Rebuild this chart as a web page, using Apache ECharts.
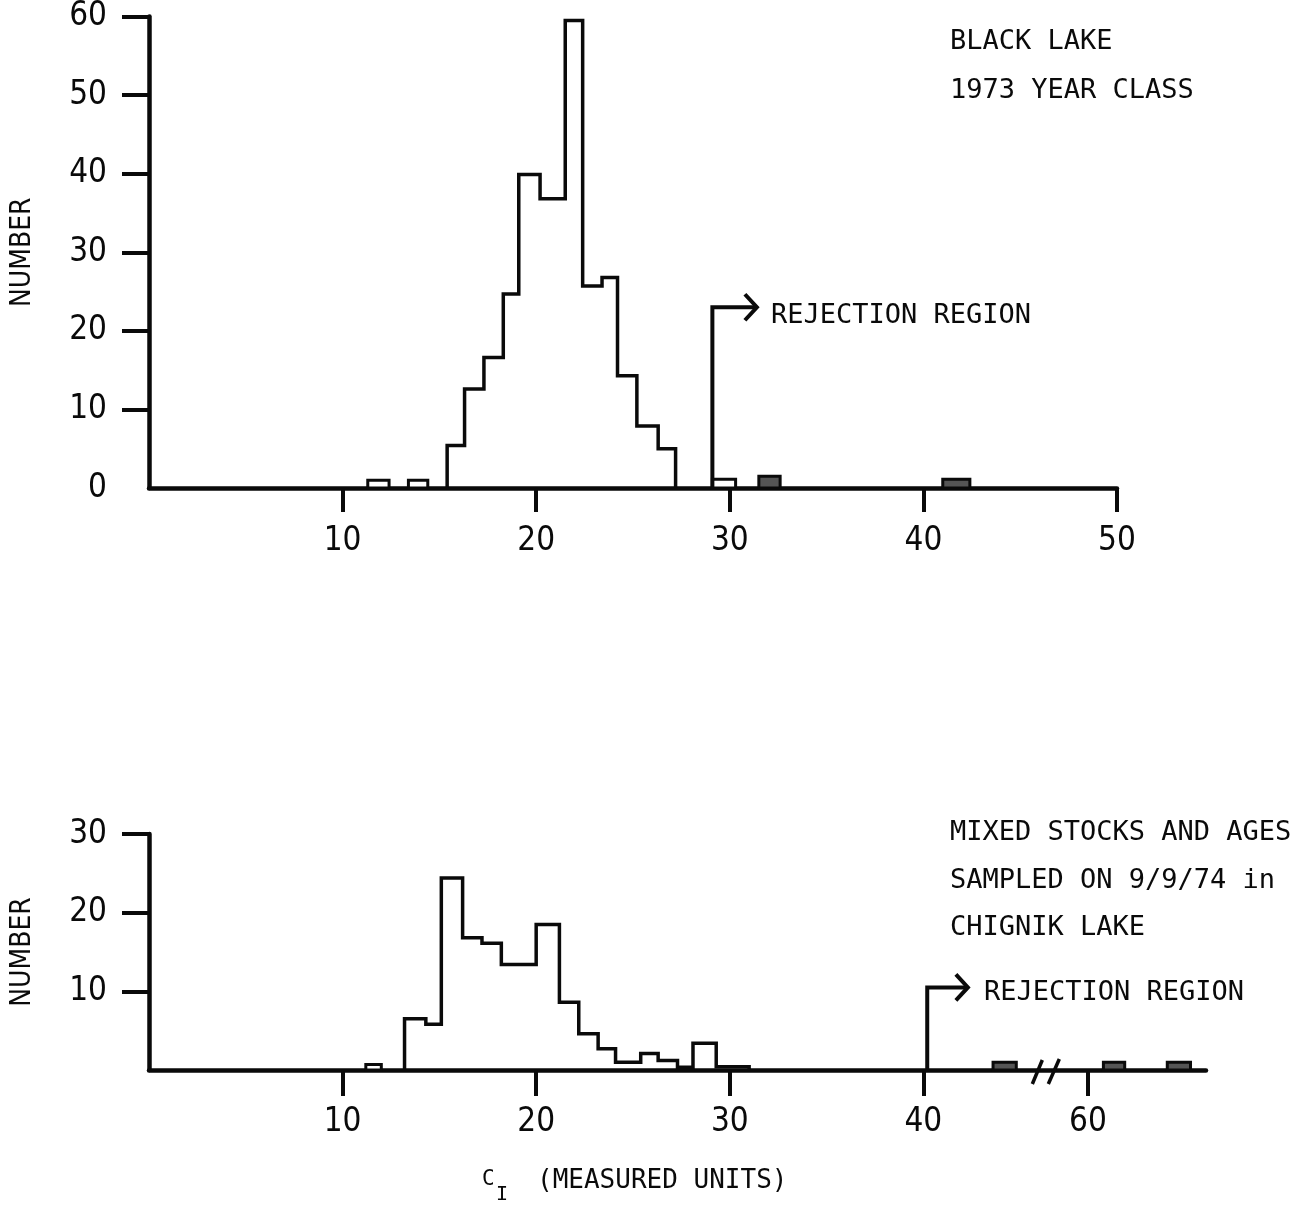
<!DOCTYPE html>
<html>
<head>
<meta charset="utf-8">
<title>C_I histograms - Black Lake / Chignik Lake</title>
<script src="https://cdn.jsdelivr.net/npm/echarts@6.0.0/dist/echarts.min.js"></script>
<style>
  html, body { margin: 0; padding: 0; background: #fff; }
  #chart { width: 1310px; height: 1218px; }
</style>
</head>
<body>
<div id="chart"></div>
<script>
// upper panel: Black Lake 1973 year class
var topEdges = [15.4, 16.3, 17.3, 18.3, 19.1, 20.2, 21.5, 22.4, 23.4, 24.2, 25.2, 26.3, 27.2];
var topCounts = [5.4, 12.6, 16.6, 24.7, 39.9, 36.8, 59.5, 25.7, 26.8, 14.3, 7.9, 5.0];
// single fish off the main body: [from, to, count, shaded]
var topSingles = [[11.3, 12.4, 1, 0], [13.4, 14.4, 1, 0], [29.1, 30.3, 1.1, 0], [31.5, 32.6, 1.5, 1], [41.0, 42.4, 1.1, 1]];
var topReject = [29.1, 23, 31.4];   // x, arrow height, arrow tip
var topXTicks = [10, 20, 30, 40, 50];
var topYTicks = [10, 20, 30, 40, 50, 60];
var topYLabels = [0, 10, 20, 30, 40, 50, 60];

// lower panel: mixed stocks, Chignik Lake 9/9/74
var botEdges = [13.2, 14.3, 15.1, 16.2, 17.2, 18.2, 20.0, 21.2, 22.2, 23.2, 24.1, 25.4, 26.3, 27.3, 28.1, 29.3, 31.0];
var botCounts = [6.5, 5.8, 24.4, 16.8, 16.1, 13.4, 18.5, 8.6, 4.6, 2.7, 1.0, 2.1, 1.2, 0.35, 3.4, 0.4];
var botSingles = [[11.2, 12.0, 0.7, 0], [43.6, 44.8, 1, 1], [60.8, 61.9, 1, 1], [64.1, 65.3, 1, 1]];
var botReject = [40.2, 10.5, 42.3];
var botXTicks = [10, 20, 30, 40, 60];
var botYTicks = [10, 20, 30];

// the lower x axis is broken between ~46 and ~58
var breakAt = 47;
var breakShift = 11.5;
var breakMark = 46.3;

function toAxis(v) { return v > breakAt ? v - breakShift : v; }

function outline(edges, counts) {
    var pts = [[edges[0], 0]];
    for (var i = 0; i < counts.length; i++) {
        pts.push([edges[i], counts[i]], [edges[i + 1], counts[i]]);
    }
    pts.push([edges[edges.length - 1], 0]);
    return pts;
}

var ink = '#0a0a0a';
var narrow = "'Liberation Sans Narrow', 'DejaVu Sans Condensed', 'Liberation Sans', sans-serif";
var mono = "'DejaVu Sans Mono', 'Liberation Mono', monospace";

function renderSingle(params, api) {
    var p1 = api.coord([api.value(0), api.value(2)]);
    var p2 = api.coord([api.value(1), 0]);
    return {
        type: 'rect',
        shape: { x: p1[0], y: p1[1], width: p2[0] - p1[0], height: p2[1] - p1[1] },
        style: { fill: api.value(3) ? '#555' : '#fff', stroke: ink, lineWidth: 3 }
    };
}

function renderArrow(params, api) {
    var base = api.coord([api.value(0), 0]);
    var top = api.coord([api.value(0), api.value(1)]);
    var tip = api.coord([api.value(2), api.value(1)]);
    return {
        type: 'group',
        children: [
            { type: 'polyline', shape: { points: [base, top, tip] },
              style: { stroke: ink, lineWidth: 4, fill: 'none', lineJoin: 'miter' } },
            { type: 'polyline', shape: { points: [[tip[0] - 12, tip[1] - 13], [tip[0], tip[1]], [tip[0] - 12, tip[1] + 13]] },
              style: { stroke: ink, lineWidth: 4, fill: 'none' } }
        ]
    };
}

function renderBreak(params, api) {
    var c = api.coord([api.value(0), 0]);
    return {
        type: 'group',
        children: [
            { type: 'line', shape: { x1: c[0] - 13, y1: c[1] + 14, x2: c[0] - 3, y2: c[1] - 10 }, style: { stroke: ink, lineWidth: 3.5 } },
            { type: 'line', shape: { x1: c[0] + 3, y1: c[1] + 14, x2: c[0] + 14, y2: c[1] - 11 }, style: { stroke: ink, lineWidth: 3.5 } }
        ]
    };
}

function valueAxis(grid, min, max, extra) {
    var ax = {
        type: 'value',
        gridIndex: grid,
        min: min,
        max: max,
        axisLine: { show: true, lineStyle: { color: ink, width: 4.5 } },
        splitLine: { show: false },
        axisTick: { show: true, lineStyle: { color: ink, width: 4 } },
        axisLabel: { color: ink, fontFamily: narrow, fontSize: 33 }
    };
    for (var k in extra) {
        if (typeof extra[k] === 'object' && ax[k]) {
            for (var j in extra[k]) ax[k][j] = extra[k][j];
        } else {
            ax[k] = extra[k];
        }
    }
    return ax;
}

var nameStyle = { color: ink, fontFamily: narrow, fontSize: 28 };

var dom = document.getElementById('chart');
var myChart = echarts.init(dom, null, { renderer: 'canvas' });

var option = {
    backgroundColor: '#fff',
    animation: false,
    grid: [
        { left: 149, top: 16, width: 968, height: 472 },
        { left: 149, top: 834, width: 1057, height: 236 }
    ],
    xAxis: [
        valueAxis(0, 0, 50, {
            axisTick: { length: 24, customValues: topXTicks },
            axisLabel: { margin: 37, customValues: topXTicks }
        }),
        valueAxis(1, 0, 54.6, {
            axisTick: { length: 26, customValues: botXTicks.map(toAxis) },
            axisLabel: {
                margin: 36,
                customValues: botXTicks.map(toAxis),
                formatter: function (v) {
                    var i = botXTicks.map(toAxis).indexOf(v);
                    return i >= 0 ? String(botXTicks[i]) : '';
                }
            }
        })
    ],
    yAxis: [
        valueAxis(0, 0, 60, {
            interval: 10,
            axisTick: { length: 27, customValues: topYTicks },
            axisLabel: { margin: 42, customValues: topYLabels },
            name: 'NUMBER', nameLocation: 'middle', nameGap: 112, nameRotate: 90, nameTextStyle: nameStyle
        }),
        valueAxis(1, 0, 30, {
            interval: 10,
            axisTick: { length: 27, customValues: botYTicks },
            axisLabel: { margin: 42, customValues: botYTicks },
            name: 'NUMBER', nameLocation: 'middle', nameGap: 112, nameRotate: 90, nameTextStyle: nameStyle
        })
    ],
    series: [
        {
            type: 'line', xAxisIndex: 0, yAxisIndex: 0,
            data: outline(topEdges, topCounts),
            symbol: 'none', silent: true,
            lineStyle: { color: ink, width: 3.5, join: 'miter' }
        },
        {
            type: 'custom', xAxisIndex: 0, yAxisIndex: 0,
            renderItem: renderSingle, encode: { x: [0, 1], y: 2 },
            data: topSingles
        },
        {
            type: 'custom', xAxisIndex: 0, yAxisIndex: 0,
            renderItem: renderArrow, encode: { x: [0, 2], y: 1 },
            data: [topReject]
        },
        {
            type: 'line', xAxisIndex: 1, yAxisIndex: 1,
            data: outline(botEdges, botCounts),
            symbol: 'none', silent: true,
            lineStyle: { color: ink, width: 3.5, join: 'miter' }
        },
        {
            type: 'custom', xAxisIndex: 1, yAxisIndex: 1,
            renderItem: renderSingle, encode: { x: [0, 1], y: 2 },
            data: botSingles.map(function (s) { return [toAxis(s[0]), toAxis(s[1]), s[2], s[3]]; })
        },
        {
            type: 'custom', xAxisIndex: 1, yAxisIndex: 1,
            renderItem: renderArrow, encode: { x: [0, 2], y: 1 },
            data: [botReject]
        },
        {
            type: 'custom', xAxisIndex: 1, yAxisIndex: 1,
            renderItem: renderBreak, encode: { x: 0 },
            data: [[breakMark]]
        }
    ],
    graphic: [
        { type: 'text', x: 950, y: 42, style: { text: 'BLACK LAKE', fontFamily: mono, fontSize: 27, fill: ink, verticalAlign: 'middle' } },
        { type: 'text', x: 950, y: 91, style: { text: '1973 YEAR CLASS', fontFamily: mono, fontSize: 27, fill: ink, verticalAlign: 'middle' } },
        { type: 'text', x: 771, y: 316, style: { text: 'REJECTION REGION', fontFamily: mono, fontSize: 27, fill: ink, verticalAlign: 'middle' } },
        { type: 'text', x: 950, y: 833, style: { text: 'MIXED STOCKS AND AGES', fontFamily: mono, fontSize: 27, fill: ink, verticalAlign: 'middle' } },
        { type: 'text', x: 950, y: 881, style: { text: 'SAMPLED ON 9/9/74 in', fontFamily: mono, fontSize: 27, fill: ink, verticalAlign: 'middle' } },
        { type: 'text', x: 950, y: 928, style: { text: 'CHIGNIK LAKE', fontFamily: mono, fontSize: 27, fill: ink, verticalAlign: 'middle' } },
        { type: 'text', x: 984, y: 993, style: { text: 'REJECTION REGION', fontFamily: mono, fontSize: 27, fill: ink, verticalAlign: 'middle' } },
        { type: 'text', x: 482, y: 1180, style: { text: 'C', fontFamily: mono, fontSize: 21, fill: ink, verticalAlign: 'middle' } },
        { type: 'text', x: 496, y: 1195, style: { text: 'I', fontFamily: mono, fontSize: 20, fill: ink, verticalAlign: 'middle' } },
        { type: 'text', x: 537, y: 1181, style: { text: '(MEASURED UNITS)', fontFamily: mono, fontSize: 26, fill: ink, verticalAlign: 'middle' } }
    ]
};

myChart.setOption(option);
window.addEventListener('resize', myChart.resize);
</script>
</body>
</html>
